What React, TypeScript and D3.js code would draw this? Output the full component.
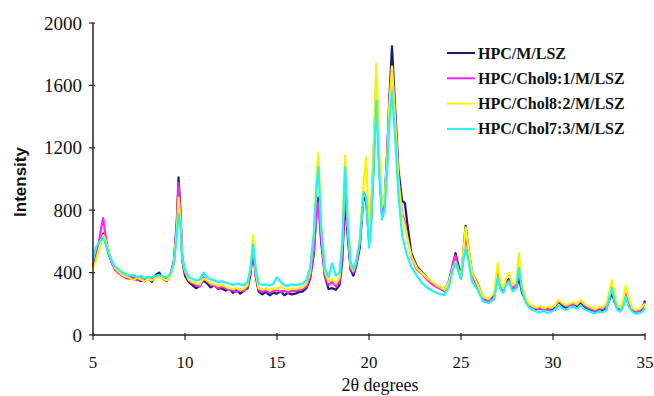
import React, { useEffect, useRef } from 'react';
import * as d3 from 'd3';

// 2θ positions shared by all four patterns
const twoTheta = [
  5.0, 5.15, 5.3, 5.45, 5.55, 5.65, 5.8, 6.0, 6.2, 6.4,
  6.6, 6.8, 7.0, 7.2, 7.4, 7.6, 7.8, 8.0, 8.2, 8.4,
  8.6, 8.8, 9.0, 9.2, 9.4, 9.55, 9.65, 9.75, 9.85, 10.0,
  10.2, 10.4, 10.6, 10.8, 11.0, 11.2, 11.4, 11.6, 11.8, 12.0,
  12.2, 12.4, 12.6, 12.8, 13.0, 13.2, 13.4, 13.55, 13.7, 13.85,
  14.0, 14.2, 14.4, 14.6, 14.8, 15.0, 15.2, 15.4, 15.6, 15.8,
  16.0, 16.2, 16.4, 16.6, 16.8, 17.0, 17.15, 17.25, 17.4, 17.6,
  17.8, 18.0, 18.2, 18.4, 18.55, 18.7, 18.85, 19.0, 19.15, 19.3,
  19.5, 19.7, 19.85, 20.0, 20.1, 20.25, 20.4, 20.55, 20.7, 20.85,
  21.0, 21.1, 21.25, 21.4, 21.6, 21.8, 21.95, 22.1, 22.3, 22.6,
  22.9, 23.2, 23.5, 23.8, 24.1, 24.35, 24.55, 24.7, 24.85, 25.0,
  25.15, 25.25, 25.4, 25.6, 25.9, 26.2, 26.5, 26.8, 27.0, 27.15,
  27.3, 27.45, 27.6, 27.8, 28.0, 28.15, 28.3, 28.5, 28.7, 28.9,
  29.1, 29.3, 29.5, 29.7, 29.9, 30.1, 30.3, 30.5, 30.7, 30.9,
  31.1, 31.3, 31.5, 31.7, 31.9, 32.1, 32.3, 32.5, 32.7, 32.9,
  33.05, 33.2, 33.35, 33.5, 33.65, 33.8, 33.95, 34.1, 34.3, 34.5,
  34.7, 34.85, 35.0,
];

const hpc = [
  440, 500, 560, 610, 650, 610, 540, 470, 420, 400,
  385, 370, 375, 355, 360, 345, 350, 365, 340, 385,
  400, 360, 345, 380, 470, 720, 1010, 800, 480, 380,
  340, 320, 300, 315, 350, 330, 305, 320, 295, 300,
  285, 300, 270, 290, 265, 285, 300, 380, 545, 370,
  280, 260, 275, 255, 270, 265, 280, 255, 270, 260,
  265, 275, 280, 300, 360, 520, 800, 880, 600, 380,
  295, 300, 290, 320, 480, 870, 620, 420, 380, 440,
  560, 900, 850, 620, 700, 1100, 1640, 1100, 800, 860,
  1200, 1500, 1850, 1500, 1060, 860, 845, 700, 525, 440,
  400, 360, 330, 310, 290, 340, 440, 525, 450, 370,
  560, 700, 560, 400, 330, 240, 225, 250, 380, 300,
  290, 340, 360, 290, 300, 370, 280, 220, 190, 180,
  165, 180, 160, 175, 160, 180, 215, 190, 175, 195,
  200, 185, 210, 180, 170, 160, 150, 165, 160, 170,
  220, 270, 210, 170, 160, 185, 250, 200, 160, 150,
  150, 165, 220,
];

const chol91 = [
  450, 490, 580, 690, 750, 660, 560, 470, 420, 395,
  380, 365, 360, 370, 350, 365, 345, 360, 355, 370,
  380, 365, 355, 390, 480, 700, 975, 780, 500, 400,
  350, 330, 320, 310, 370, 345, 320, 315, 300, 310,
  300, 290, 285, 275, 290, 280, 310, 400, 580, 380,
  290, 275, 285, 270, 280, 290, 275, 285, 270, 285,
  280, 290, 295, 310, 370, 540, 780, 850, 620, 390,
  320, 340, 310, 340, 520, 950, 660, 430, 400, 450,
  580, 920, 880, 600, 720, 1150, 1600, 1120, 780, 850,
  1180, 1480, 1720, 1450, 1000, 780, 720, 620, 500, 420,
  390, 350, 320, 300, 280, 350, 460, 510, 430, 360,
  520, 640, 540, 380, 310, 230, 215, 245, 400, 310,
  285, 330, 350, 300, 320, 420, 300, 230, 195, 175,
  170, 165, 175, 160, 170, 185, 220, 200, 185, 190,
  195, 200, 215, 190, 175, 165, 155, 170, 165, 185,
  240, 300, 230, 180, 165, 200, 265, 210, 165, 150,
  155, 175, 210,
];

const chol82 = [
  430, 470, 540, 600, 640, 620, 560, 480, 430, 405,
  385, 375, 365, 350, 370, 355, 345, 360, 350, 365,
  370, 360, 350, 375, 460, 660, 880, 740, 490, 410,
  355, 340, 330, 325, 360, 350, 330, 325, 315, 320,
  310, 300, 295, 300, 290, 295, 320, 420, 640, 400,
  300, 290, 300, 285, 300, 295, 310, 295, 290, 300,
  295, 300, 305, 330, 400, 640, 1020, 1170, 700, 410,
  340, 360, 330, 370, 600, 1150, 700, 450, 410, 470,
  620, 960, 1140, 640, 750, 1200, 1740, 1180, 820, 880,
  1150, 1450, 1720, 1420, 1000, 760, 700, 610, 505, 430,
  395, 360, 335, 310, 290, 340, 430, 470, 420, 380,
  560, 690, 560, 400, 325, 245, 230, 270, 460, 330,
  300, 360, 400, 320, 340, 525, 330, 240, 200, 185,
  175, 185, 170, 180, 175, 190, 225, 205, 190, 200,
  210, 195, 225, 200, 185, 175, 165, 180, 175, 200,
  270, 350, 260, 190, 175, 215, 315, 240, 175, 160,
  165, 180, 200,
];

const chol73 = [
  480, 560, 590, 610, 620, 600, 540, 480, 440, 420,
  400, 390, 380, 385, 370, 380, 365, 375, 370, 380,
  385, 375, 370, 390, 460, 620, 780, 700, 500, 420,
  370, 360, 350, 355, 400, 370, 355, 350, 340, 345,
  335, 330, 320, 330, 325, 320, 340, 420, 580, 420,
  330, 320, 325, 315, 330, 370, 340, 320, 315, 325,
  320, 325, 330, 350, 430, 650, 950, 1080, 700, 430,
  370, 460, 380, 400, 600, 1080, 720, 470, 420, 470,
  600, 910, 880, 560, 680, 1050, 1500, 1050, 740, 800,
  1080, 1350, 1560, 1300, 900, 640, 565, 500, 435, 380,
  330, 300, 280, 265, 255, 310, 420, 460, 410, 360,
  500, 550, 480, 340, 290, 215, 205, 230, 365, 290,
  270, 320, 340, 280, 300, 430, 300, 210, 175, 160,
  150, 145, 155, 140, 150, 160, 190, 170, 160, 175,
  180, 170, 190, 165, 155, 145, 140, 150, 145, 160,
  230, 300, 220, 160, 150, 175, 245, 185, 150, 135,
  140, 150, 170,
];

const seriesNames = ['HPC/M/LSZ', 'HPC/Chol9:1/M/LSZ', 'HPC/Chol8:2/M/LSZ', 'HPC/Chol7:3/M/LSZ'];
const seriesValues = [hpc, chol91, chol82, chol73];
const seriesColors = ['#1c1c6e', '#ff22ff', '#f6f600', '#22f4f4'];

const xTicks = [5, 10, 15, 20, 25, 30, 35];
const yTicks = [0, 400, 800, 1200, 1600, 2000];

const Chart: React.FC = () => {
  const svgRef = useRef<SVGSVGElement | null>(null);

  useEffect(() => {
    if (!svgRef.current) return;
    const width = 654;
    const height = 396;
    const svg = d3.select(svgRef.current);
    svg.selectAll('*').remove();

    const x = d3.scaleLinear().domain([5, 35]).range([93, 645]);
    const y = d3.scaleLinear().domain([0, 2000]).range([335, 23]);
    const axisColor = '#222';
    const serif = '"Liberation Serif", "Times New Roman", serif';

    svg.attr('width', width).attr('height', height);
    svg.append('rect').attr('width', width).attr('height', height).attr('fill', '#fff');

    // series lines, cyan drawn last as in the original
    const line = d3.line<[number, number]>().x(d => x(d[0])).y(d => y(d[1]));
    seriesValues.forEach((vals, i) => {
      const pts: [number, number][] = twoTheta.map((t, j) => [t, vals[j]]);
      svg.append('path')
        .datum(pts)
        .attr('fill', 'none')
        .attr('stroke', seriesColors[i])
        .attr('stroke-width', 2.2)
        .attr('stroke-linejoin', 'round')
        .attr('d', line);
    });

    // axes
    svg.append('line')
      .attr('x1', x(5)).attr('y1', y(0)).attr('x2', x(35)).attr('y2', y(0))
      .attr('stroke', axisColor).attr('stroke-width', 1.5);
    svg.append('line')
      .attr('x1', x(5)).attr('y1', y(0)).attr('x2', x(5)).attr('y2', y(2000))
      .attr('stroke', axisColor).attr('stroke-width', 1.5);

    // y ticks + labels
    svg.selectAll('.y-tick').data(yTicks).enter().append('line')
      .attr('x1', x(5) - 4).attr('x2', x(5) + 2)
      .attr('y1', d => y(d)).attr('y2', d => y(d))
      .attr('stroke', axisColor).attr('stroke-width', 1.2);
    svg.selectAll('.y-label').data(yTicks).enter().append('text')
      .attr('x', 82).attr('y', d => y(d) + 6.5)
      .attr('text-anchor', 'end')
      .attr('font-family', serif).attr('font-size', 19).attr('fill', '#111')
      .text(d => d);

    // x ticks + labels
    svg.selectAll('.x-tick').data(xTicks).enter().append('line')
      .attr('x1', d => x(d)).attr('x2', d => x(d))
      .attr('y1', y(0) - 2).attr('y2', y(0) + 5)
      .attr('stroke', axisColor).attr('stroke-width', 1.2);
    svg.selectAll('.x-label').data(xTicks).enter().append('text')
      .attr('x', d => x(d)).attr('y', 368)
      .attr('text-anchor', 'middle')
      .attr('font-family', serif).attr('font-size', 17).attr('fill', '#111')
      .text(d => d);

    // axis titles
    svg.append('text')
      .attr('x', 380).attr('y', 391)
      .attr('text-anchor', 'middle')
      .attr('font-family', serif).attr('font-size', 18).attr('fill', '#111')
      .text('2θ degrees');
    svg.append('text')
      .attr('transform', 'translate(26,182) rotate(-90)')
      .attr('text-anchor', 'middle')
      .attr('font-family', '"Liberation Sans", Arial, sans-serif').attr('font-size', 17)
      .attr('font-weight', 'bold').attr('fill', '#111')
      .text('Intensity');

    // legend
    const legend = svg.append('g');
    seriesNames.forEach((name, i) => {
      const ly = 53 + i * 25.3;
      legend.append('line')
        .attr('x1', 447).attr('x2', 475).attr('y1', ly).attr('y2', ly)
        .attr('stroke', seriesColors[i]).attr('stroke-width', 2);
      legend.append('text')
        .attr('x', 478).attr('y', ly + 5.5)
        .attr('font-family', serif).attr('font-size', 16).attr('font-weight', 'bold').attr('fill', '#111')
        .text(name);
    });
  }, []);

  return <svg ref={svgRef} style={{ position: 'absolute', left: 0, top: 0 }} />;
};

export default function App() {
  return <Chart />;
}
